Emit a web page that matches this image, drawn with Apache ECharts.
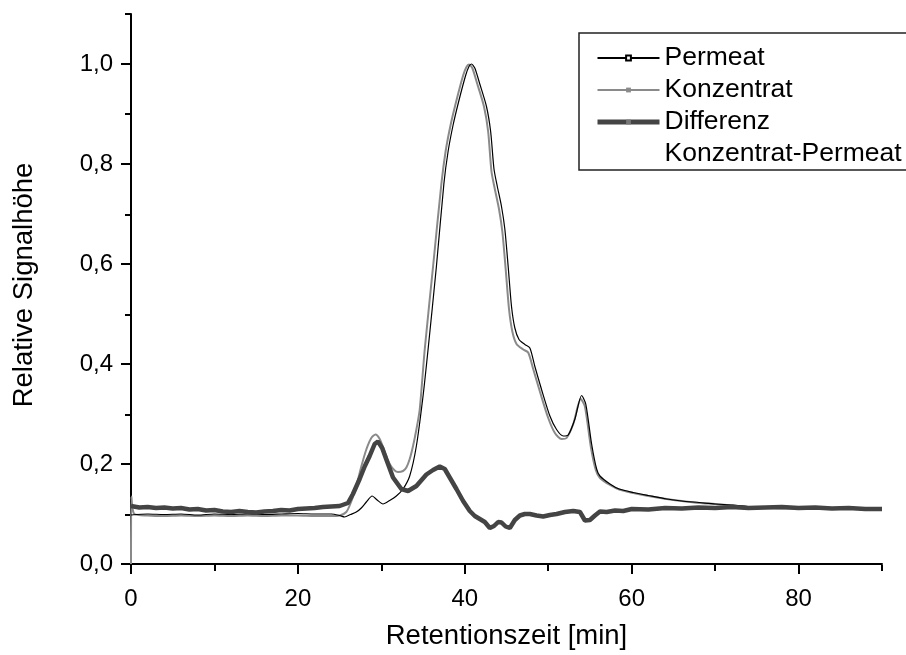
<!DOCTYPE html>
<html>
<head>
<meta charset="utf-8">
<script src="https://cdn.jsdelivr.net/npm/echarts@6/dist/echarts.min.js"></script>
<style>
  html, body { margin: 0; padding: 0; background: #fff; }
  #chart { width: 906px; height: 655px; }
</style>
</head>
<body>
<div id="chart"></div>
<script>
// [Retentionszeit in min, relative Signalhöhe]
const permeat = [
  [0, 0.098], [2, 0.1], [4, 0.099], [6, 0.1], [8, 0.098], [10, 0.1], [12, 0.099], [14, 0.1],
  [16, 0.099], [18, 0.1], [20, 0.101], [22, 0.1], [24, 0.1], [25, 0.097], [25.6, 0.094],
  [26.3, 0.099], [27, 0.104], [27.6, 0.112], [28.2, 0.124], [28.9, 0.136], [29.5, 0.128],
  [30.2, 0.12], [31, 0.127], [31.8, 0.136], [32.6, 0.15], [33.4, 0.176], [34.2, 0.236],
  [35, 0.336], [35.6, 0.429], [36.6, 0.595], [37.5, 0.761], [38, 0.825], [38.6, 0.878],
  [39.3, 0.927], [40.1, 0.977], [40.5, 0.995], [40.8, 1.0], [41.2, 0.992], [41.8, 0.96],
  [42.6, 0.915], [43.1, 0.865], [43.5, 0.79], [43.9, 0.755], [44.4, 0.715], [44.8, 0.67],
  [45.2, 0.595], [45.6, 0.515], [46, 0.472], [46.5, 0.449], [47.2, 0.439], [47.8, 0.432],
  [48.4, 0.395], [49.2, 0.349], [50.2, 0.296], [51, 0.269], [51.8, 0.256], [52.4, 0.258],
  [53.2, 0.29], [54, 0.337], [54.5, 0.32], [55.2, 0.24], [55.8, 0.19], [56.2, 0.176],
  [57.4, 0.16], [58.5, 0.15], [60.2, 0.143], [62, 0.137], [64.2, 0.13], [66, 0.126],
  [68.1, 0.123], [70, 0.12], [72.1, 0.118], [74, 0.115], [76, 0.113], [80, 0.112],
  [85, 0.111], [90, 0.111]
];

const konzentrat = [
  [0, 0], [0.05, 0.135], [0.4, 0.1], [2, 0.097], [4, 0.096], [6, 0.097], [8, 0.096],
  [10, 0.097], [12, 0.096], [14, 0.097], [16, 0.096], [18, 0.097], [20, 0.097], [22, 0.096],
  [24, 0.096], [25, 0.097], [25.8, 0.104], [26.4, 0.125], [27, 0.156], [27.6, 0.195],
  [28.2, 0.229], [28.8, 0.252], [29.3, 0.259], [29.8, 0.25], [30.4, 0.225], [31, 0.2],
  [31.6, 0.187], [32, 0.184], [32.6, 0.186], [33, 0.193], [33.4, 0.21], [33.8, 0.236],
  [34.2, 0.269], [34.6, 0.309], [35.2, 0.429], [36.2, 0.595], [37.2, 0.761], [37.7, 0.825],
  [38.3, 0.878], [39, 0.927], [39.8, 0.977], [40.2, 0.994], [40.5, 0.999], [40.9, 0.992],
  [41.5, 0.96], [42.3, 0.915], [42.8, 0.865], [43.2, 0.785], [43.6, 0.75], [44.1, 0.71],
  [44.5, 0.665], [44.9, 0.59], [45.3, 0.51], [45.7, 0.465], [46.2, 0.44], [47, 0.429],
  [47.6, 0.423], [48.2, 0.39], [49, 0.345], [50, 0.292], [50.8, 0.262], [51.6, 0.25],
  [52.2, 0.252], [53, 0.28], [53.9, 0.33], [54.4, 0.315], [55.1, 0.235], [55.7, 0.188],
  [56.2, 0.172], [57.4, 0.158], [58.5, 0.149], [60.2, 0.142], [62, 0.136], [64.2, 0.13],
  [66, 0.126], [68.1, 0.122], [70, 0.12], [72.1, 0.117], [74, 0.114], [76, 0.112],
  [80, 0.111], [85, 0.11], [90, 0.11]
];

const differenz = [
  [0, 0.116], [1, 0.113], [2, 0.114], [3, 0.112], [4, 0.113], [5, 0.111], [6, 0.112],
  [7, 0.109], [8, 0.11], [9, 0.107], [10, 0.108], [11, 0.105], [12, 0.104], [13, 0.106],
  [14, 0.104], [15, 0.103], [16, 0.105], [17, 0.106], [18, 0.108], [19, 0.107], [20, 0.11],
  [21, 0.111], [22, 0.112], [23, 0.114], [24, 0.115], [25, 0.116], [26, 0.122], [26.6, 0.14],
  [27.4, 0.17], [28, 0.195], [28.6, 0.216], [29.2, 0.24], [29.6, 0.245], [30.1, 0.232],
  [30.6, 0.209], [31.4, 0.173], [32.4, 0.15], [33.2, 0.146], [34.2, 0.156], [35.4, 0.179],
  [36.2, 0.188], [37, 0.195], [37.6, 0.19], [38.3, 0.17], [39, 0.15], [39.8, 0.126],
  [40.6, 0.106], [41.2, 0.096], [41.8, 0.09], [42.4, 0.084], [43, 0.072], [43.5, 0.076],
  [44, 0.084], [44.4, 0.083], [44.9, 0.075], [45.4, 0.072], [46, 0.088], [46.6, 0.097],
  [47.2, 0.1], [47.8, 0.1], [48.6, 0.097], [49.4, 0.095], [50.2, 0.098], [51, 0.1],
  [52, 0.104], [53, 0.106], [53.8, 0.104], [54.4, 0.087], [55, 0.088], [55.6, 0.097],
  [56.2, 0.105], [57, 0.104], [58, 0.107], [59, 0.106], [60, 0.11], [62, 0.109], [64, 0.112],
  [66, 0.111], [68, 0.113], [70, 0.112], [72, 0.114], [74, 0.112], [76, 0.113], [78, 0.114],
  [80, 0.112], [82, 0.113], [84, 0.111], [86, 0.112], [88, 0.11], [90, 0.11]
];

const xMajorTicks = [0, 20, 40, 60, 80];
const xMinorTicks = [10, 30, 50, 70, 90];
const yMajorTicks = [0, 0.2, 0.4, 0.6, 0.8, 1.0];
const yMinorTicks = [0.1, 0.3, 0.5, 0.7, 0.9, 1.1];

const FONT = "Liberation Sans";
const grid = { left: 131, right: 24, top: 14, bottom: 90 };

const chart = echarts.init(document.getElementById("chart"));

chart.setOption({
  animation: false,
  backgroundColor: "#fff",
  textStyle: { fontFamily: FONT, color: "#000" },
  grid: [Object.assign({}, grid), Object.assign({}, grid)],
  legend: {
    orient: "vertical",
    left: 579,
    top: 33,
    padding: [9, 40, 0, 16],
    itemGap: 0,
    itemWidth: 62,
    itemHeight: 6,
    borderColor: "#222",
    borderWidth: 1.5,
    backgroundColor: "#fff",
    selectedMode: false,
    textStyle: { fontFamily: FONT, fontSize: 26.5, color: "#000", lineHeight: 32 },
    data: [
      "Permeat",
      "Konzentrat",
      { name: "Differenz", lineStyle: { width: 5 } },
      // second line of the Differenz entry
      { name: "Konzentrat-Permeat", itemStyle: { opacity: 0 }, lineStyle: { opacity: 0 } },
    ],
  },
  xAxis: [
    {
      type: "value",
      min: 0,
      max: 90,
      interval: 20,
      name: "Retentionszeit [min]",
      nameLocation: "middle",
      nameGap: 58,
      nameTextStyle: { fontFamily: FONT, fontSize: 27.5, color: "#000" },
      axisLine: { onZero: false, lineStyle: { color: "#000", width: 2 } },
      axisTick: { inside: false, length: 10, customValues: xMajorTicks, lineStyle: { color: "#000", width: 2 } },
      axisLabel: { customValues: xMajorTicks, margin: 23, fontFamily: FONT, fontSize: 24, color: "#000" },
      splitLine: { show: false },
    },
    {
      type: "value",
      gridIndex: 1,
      min: 0,
      max: 90,
      interval: 10,
      axisLine: { show: false },
      axisTick: { inside: false, length: 6, customValues: xMinorTicks, lineStyle: { color: "#000", width: 2 } },
      axisLabel: { show: false },
      splitLine: { show: false },
    },
  ],
  yAxis: [
    {
      type: "value",
      min: 0,
      max: 1.1,
      interval: 0.2,
      name: "Relative Signalhöhe",
      nameLocation: "middle",
      nameGap: 93,
      nameTextStyle: { fontFamily: FONT, fontSize: 27.5, color: "#000", padding: [0, 0, 0, 8] },
      axisLine: { show: true, onZero: false, lineStyle: { color: "#000", width: 2 } },
      axisTick: { show: true, inside: false, length: 10, customValues: yMajorTicks, lineStyle: { color: "#000", width: 2 } },
      axisLabel: {
        customValues: yMajorTicks,
        margin: 18,
        fontFamily: FONT,
        fontSize: 24,
        color: "#000",
        formatter: (v) => v.toFixed(1).replace(".", ","),
      },
      splitLine: { show: false },
    },
    {
      type: "value",
      gridIndex: 1,
      min: 0,
      max: 1.1,
      interval: 0.1,
      axisLine: { show: false },
      axisTick: { show: true, inside: false, length: 6, customValues: yMinorTicks, lineStyle: { color: "#000", width: 2 } },
      axisLabel: { show: false },
      splitLine: { show: false },
    },
  ],
  series: [
    {
      name: "Permeat",
      type: "line",
      data: permeat,
      smooth: 0.25,
      showSymbol: false,
      symbol: "emptyRect",
      symbolSize: 4,
      itemStyle: { color: "#000" },
      lineStyle: { color: "#000", width: 1.2 },
      z: 4,
    },
    {
      name: "Konzentrat",
      type: "line",
      data: konzentrat,
      smooth: 0.25,
      showSymbol: false,
      symbol: "rect",
      symbolSize: 4,
      itemStyle: { color: "#8a8a8a" },
      lineStyle: { color: "#8a8a8a", width: 2 },
      z: 3,
    },
    {
      name: "Differenz",
      type: "line",
      data: differenz,
      showSymbol: false,
      symbol: "rect",
      symbolSize: 3,
      itemStyle: { color: "#777" },
      lineStyle: { color: "#444", width: 4.5 },
      z: 5,
    },
    {
      name: "Konzentrat-Permeat",
      type: "line",
      data: [],
      symbol: "none",
      lineStyle: { opacity: 0, width: 0 },
    },
  ],
});
</script>
</body>
</html>
